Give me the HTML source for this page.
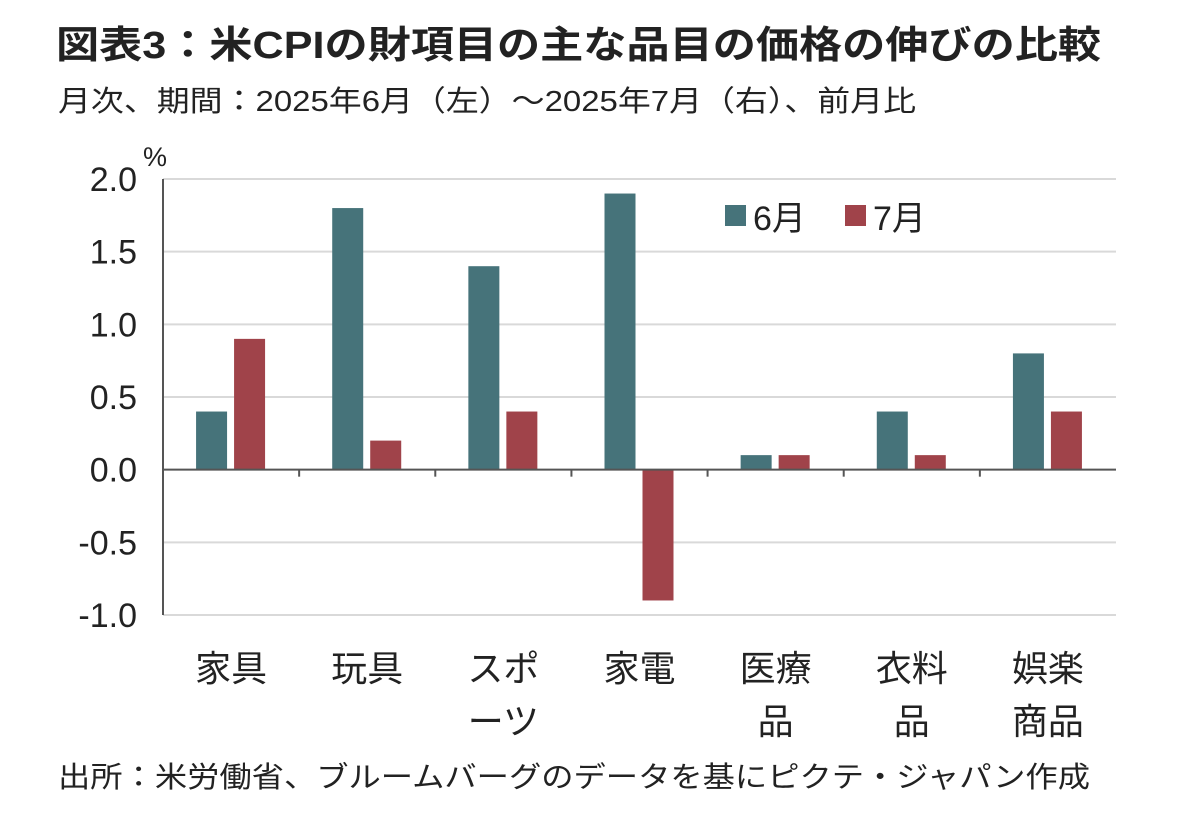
<!DOCTYPE html>
<html><head><meta charset="utf-8">
<style>
html,body{margin:0;padding:0;background:#fff;}
svg{display:block;font-family:"Liberation Sans","Noto Sans CJK JP",sans-serif;}
</style></head>
<body>
<svg id="chart" width="1182" height="819" viewBox="0 0 1182 819">
<text x="56" y="58" font-size="38" font-weight="bold" fill="#222" textLength="1045" lengthAdjust="spacingAndGlyphs">図表3：米CPIの財項目の主な品目の価格の伸びの比較</text>
<text x="58" y="111" font-size="29" fill="#222" textLength="858" lengthAdjust="spacingAndGlyphs">月次、期間：2025年6月（左）～2025年7月（右）、前月比</text>
<text x="143" y="166" font-size="27" fill="#222">%</text>
<g id="grid"></g>
<g id="bars"></g>
<g id="labels"></g>
<g>
<rect x="725" y="205" width="21" height="21" fill="#46737a"/>
<text x="753" y="230" font-size="34" fill="#222">6月</text>
<rect x="845" y="205" width="21" height="21" fill="#a0434a"/>
<text x="873" y="230" font-size="34" fill="#222">7月</text>
</g>
<text x="58" y="787" font-size="29" fill="#222" textLength="1032" lengthAdjust="spacingAndGlyphs">出所：米労働省、ブルームバーグのデータを基にピクテ・ジャパン作成</text>
</svg>
<script>
const categories=[["家具"],["玩具"],["スポ","ーツ"],["家電"],["医療","品"],["衣料","品"],["娯楽","商品"]];
const june=[0.4,1.8,1.4,1.9,0.1,0.4,0.8];
const july=[0.9,0.2,0.4,-0.9,0.1,0.1,0.4];
const yTicks=[2.0,1.5,1.0,0.5,0.0,-0.5,-1.0];
const NS="http://www.w3.org/2000/svg";
const x0=163,x1=1116,yTop=179,yBot=615,vMax=2,vMin=-1;
const y=v=>yTop+(vMax-v)/(vMax-vMin)*(yBot-yTop);
const band=(x1-x0)/categories.length;
function mk(tag,attrs,parent){const e=document.createElementNS(NS,tag);for(const k in attrs)e.setAttribute(k,attrs[k]);parent.appendChild(e);return e;}
const grid=document.getElementById('grid'),bars=document.getElementById('bars'),labels=document.getElementById('labels');
yTicks.forEach(t=>{
 if(t!==0){const l=mk('line',{x1:x0,x2:x1,y1:y(t),y2:y(t),stroke:'#d9d9d9','stroke-width':2},grid);
 
 }
 const tx=mk('text',{x:137,y:y(t)+12,'font-size':34,'text-anchor':'end',fill:'#222'},labels);
 tx.textContent=t.toFixed(1);
 
 
});
categories.forEach((c,i)=>{
 const cx=x0+band*(i+0.5);
 [[june[i],'#46737a',-1,'bar-june'],[july[i],'#a0434a',1,'bar-july']].forEach(([v,col,s,nm])=>{
  const bx=s<0?cx-35:cx+3;
  const r=mk('rect',{x:bx,y:Math.min(y(v),y(0)),width:31,height:Math.abs(y(v)-y(0)),fill:col},bars);
  
  
 });
 c.forEach((ln,j)=>{
  const t=mk('text',{x:cx,y:681+j*53,'font-size':36,'text-anchor':'middle',fill:'#222'},labels);
  t.textContent=ln;
  
  
 });
 if(i>0){const tk=mk('line',{x1:x0+band*i,x2:x0+band*i,y1:y(0),y2:y(0)+7,stroke:'#555','stroke-width':2},grid);
 
 }
});
const ya=mk('line',{x1:x0,x2:x0,y1:yTop,y2:yBot,stroke:'#555','stroke-width':2},grid);


const za=mk('line',{x1:x0,x2:x1,y1:y(0),y2:y(0),stroke:'#555','stroke-width':2},labels);


</script>
</body></html>
